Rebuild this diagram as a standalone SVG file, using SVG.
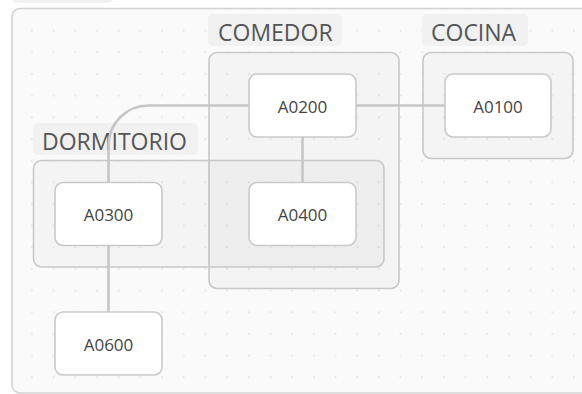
<svg xmlns="http://www.w3.org/2000/svg" width="582" height="394" viewBox="0 0 582 394">
  <defs>
    <pattern id="dots" x="10.3" y="9" width="21.68" height="21.66" patternUnits="userSpaceOnUse">
      <circle cx="0" cy="0" r="0.9" fill="#e2e2e2"/>
      <circle cx="21.68" cy="0" r="0.9" fill="#e2e2e2"/>
      <circle cx="0" cy="21.66" r="0.9" fill="#e2e2e2"/>
      <circle cx="21.68" cy="21.66" r="0.9" fill="#e2e2e2"/>
    </pattern>
    <style>
      .panel { fill: #fafafa; stroke: #d2d2d2; stroke-width: 1.6; }
      .zone { fill: rgba(0,0,0,0.025); stroke: #c8c8c8; stroke-width: 1.6; }
      .tag { fill: #f1f1f1; }
      .tag-text { font-family: "Open Sans", "Noto Sans", sans-serif; font-size: 23px; fill: #555; }
      .node rect { fill: #ffffff; stroke: #cacaca; stroke-width: 1.6; }
      .node text { font-family: "Open Sans", "Noto Sans", sans-serif; font-size: 17px; fill: #444; text-anchor: middle; }
      .link { fill: none; stroke: #c6c6c6; stroke-width: 2.6; }
    </style>
  </defs>

  <rect width="582" height="394" fill="#ffffff"/>

  <!-- canvas panel -->
  <rect x="12" y="-29" width="101" height="32" rx="5" class="tag"/>
  <rect x="12" y="8.5" width="600" height="384.5" rx="8" class="panel"/>
  <rect x="13" y="9.5" width="570" height="382" fill="url(#dots)"/>

  <!-- zones -->
  <g id="zone-comedor">
    <rect x="208" y="14" width="134" height="32" rx="5" class="tag"/>
    <text x="218" y="41" class="tag-text">COMEDOR</text>
    <rect x="209" y="52.5" width="190" height="236" rx="8" class="zone"/>
  </g>
  <g id="zone-cocina">
    <rect x="422" y="14" width="106" height="32" rx="5" class="tag"/>
    <text x="431" y="41" class="tag-text">COCINA</text>
    <rect x="423" y="52.5" width="150" height="106" rx="8" class="zone"/>
  </g>
  <g id="zone-dormitorio">
    <rect x="33" y="123" width="165" height="32" rx="5" class="tag"/>
    <text x="42" y="150" class="tag-text">DORMITORIO</text>
    <rect x="33.5" y="160.5" width="350.5" height="106.5" rx="8" class="zone"/>
  </g>

  <!-- connectors -->
  <g id="links">
    <path class="link" d="M249 105.5 H148.5 A40 40 0 0 0 108.5 145.5 V182"/>
    <path class="link" d="M356 105.5 H445"/>
    <path class="link" d="M302.5 137 V182"/>
    <path class="link" d="M108.5 245 V312"/>
  </g>

  <!-- nodes -->
  <g id="A0200" class="node">
    <rect x="249" y="74" width="107" height="63" rx="8"/>
    <text x="302.5" y="113">A0200</text>
  </g>
  <g id="A0100" class="node">
    <rect x="445" y="74" width="106" height="63" rx="8"/>
    <text x="498" y="113">A0100</text>
  </g>
  <g id="A0300" class="node">
    <rect x="55" y="182.5" width="107" height="63" rx="8"/>
    <text x="108.5" y="221">A0300</text>
  </g>
  <g id="A0400" class="node">
    <rect x="249" y="182.5" width="107" height="63" rx="8"/>
    <text x="302.5" y="221">A0400</text>
  </g>
  <g id="A0600" class="node">
    <rect x="55" y="312" width="107" height="63" rx="8"/>
    <text x="108.5" y="351">A0600</text>
  </g>
</svg>
